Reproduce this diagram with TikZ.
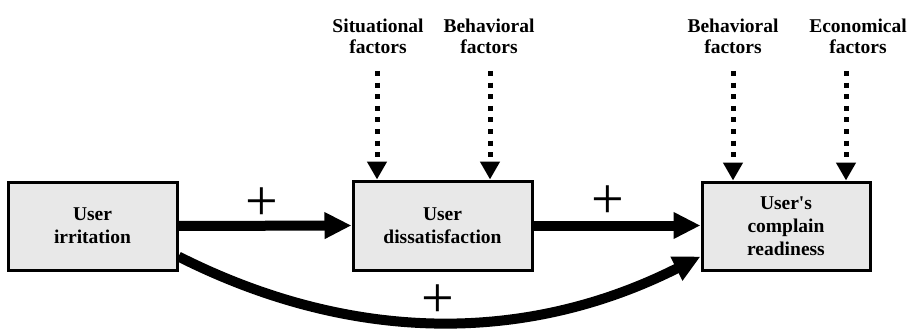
\documentclass[tikz,border=0pt]{standalone}
\usepackage{fontspec}
\setmainfont{Liberation Serif}
\usetikzlibrary{arrows.meta,calc}

\tikzset{
  box/.style={draw=black, line width=3pt, fill={rgb,255:red,232;green,232;blue,232},
    align=center, inner sep=0pt, font=\bfseries\fontsize{19.5}{23}\selectfont},
  factor/.style={align=center, inner sep=0pt, font=\bfseries\fontsize{19.5}{21}\selectfont},
  effect/.style={line width=10pt, -{Triangle[length=27pt,width=25pt]}},
  influence/.style={line width=5pt, dash pattern=on 5pt off 6.6pt,
    -{Triangle[length=18pt,width=19pt]}},
  sign/.style={inner sep=0pt, font=\fontsize{58}{58}\selectfont}
}

\begin{document}
\begin{tikzpicture}[x=1pt,y=-1pt]
  \useasboundingbox (0,0) rectangle (911,329);

  % main stages
  \node[box, minimum width=169pt, minimum height=88pt] (irr) at (92.5,226) {User\\irritation};
  \node[box, minimum width=179pt, minimum height=89pt] (dis) at (442.5,225.5) {User\\dissatisfaction};
  \node[box, minimum width=168pt, minimum height=88pt] (rdy) at (786,226) {User\textquotesingle s\\complain\\readiness};

  % influencing factors
  \node[factor] (sit) at (378,36) {Situational\\factors};
  \node[factor] (beha) at (489,36) {Behavioral\\factors};
  \node[factor] (behb) at (733,36) {Behavioral\\factors};
  \node[factor] (eco) at (858,36) {Economical\\factors};

  \coordinate (psit) at (377,71);
  \coordinate (pbeha) at (490,71);
  \coordinate (pbehb) at (733,71);
  \coordinate (peco) at (846,71);

  \draw[influence] (psit) -- (psit |- dis.north);
  \draw[influence] (pbeha) -- (pbeha |- dis.north);
  \draw[influence] (pbehb) -- (pbehb |- rdy.north);
  \draw[influence] (peco) -- (peco |- rdy.north);

  % effects between stages
  \draw[effect] (irr.east) -- (dis.west);
  \draw[effect] (dis.east) -- (rdy.west |- dis.east);
  \draw[effect] ($(irr.south east)+(0,-15)$) .. controls (352,344) and (527,344) .. ($(rdy.south west)+(0,-15)$);

  % signs of the effects
  \node[sign] (s1) at (262,204) {+};
  \node[sign] (s2) at (608,202) {+};
  \node[sign] (s3) at (438,301) {+};
\end{tikzpicture}
\end{document}
